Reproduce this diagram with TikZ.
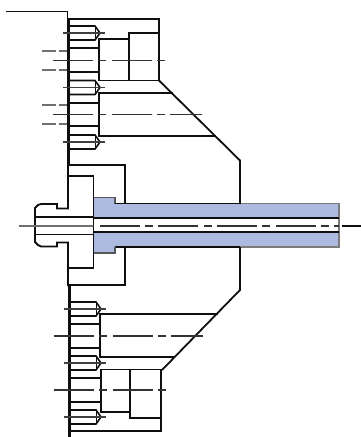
\documentclass[tikz,border=0pt]{standalone}
\definecolor{shaft}{RGB}{172,186,224}
\definecolor{ink}{RGB}{15,15,15}
\tikzset{
  outl/.style={draw=ink,line width=1.35pt,line join=miter},
  heavy/.style={draw=ink,line width=2.7pt},
  thinl/.style={draw=ink,line width=1pt},
  axisl/.style={draw=ink!85,line width=0.85pt,dash pattern=on 30pt off 4pt on 6pt off 4pt},
  marks/.style={draw=ink!60,line width=2.1pt},
  screwhole/.pic={
    \draw[outl,line width=1.2pt] (0,-7)--(25,-7)--(30,0)--(25,7)--(0,7);
    \draw[thinl,line width=0.7pt] (25,-7)--(25,7);
    \draw[thinl,draw=ink!80,line width=0.9pt] (-7,0)--(35,0);
  }
}
\begin{document}
\begin{tikzpicture}[x=0.75pt,y=-0.75pt,line cap=butt]
\useasboundingbox (0,0) rectangle (361,437);
% shaft
\fill[shaft] (94,197.5)--(115,197.5)--(115,203.5)--(339,203.5)--(339,247)--(115,247)--(115,253)--(94,253)--cycle;
\fill[white] (94,218)rectangle(339,232);
\draw[draw=ink!70,line width=0.9pt] (94,197.5)--(115,197.5)--(115,203.5);
\draw[outl] (115,203.5)--(240,203.5);
\draw[draw=ink!55,line width=0.9pt] (240,203.5)--(339,203.5)--(339,247)--(240,247);
\draw[outl] (115,247)--(240,247);
\draw[draw=ink!70,line width=0.9pt] (115,247)--(115,253)--(94,253);
\draw[thinl] (94,218)--(339,218) (94,232)--(339,232);
% plate
\draw[outl] (6,11.5)--(67.5,11.5)--(67.5,20);
\draw[heavy] (68.5,19)--(68.5,165);
\draw[heavy] (69.5,286)--(69.5,437);
% upper flange and bolt
\draw[outl] (68,165)--(125,165)--(125,204);
\draw[outl] (68,165)--(68,208.5)--(57,208.5)--(57,204)--(41,204)--(38,205)--(35,208)--(35,242)--(38,245)--(41,246.5)--(57,246.5)--(57,242.5)--(68,242.5)--(68,286);
\draw[outl] (68,176)--(93.5,176)--(93.5,268)--(68,268);
\draw[outl] (125,247)--(125,285)--(68,285);
\draw[thinl] (35,217)--(93.5,217) (35,234.5)--(93.5,234.5);
% upper housing
\draw[outl] (68,19)--(159,19)--(159,80.5)--(99,80.5)--(99,39)--(129,39) (129,80.5)--(129,33)--(159,33);
\draw[outl] (69,48)--(99,48) (69,72)--(99,72);
\draw[outl] (159,80.5)--(240,160.5)--(240,204);
\draw[outl] (173,93)--(99,93)--(99,136)--(216,136);
\draw[outl] (69,103)--(99,103) (69,126)--(99,126);
% lower housing
\draw[outl] (240,247)--(240,290)--(162,370);
\draw[outl] (218,314)--(100,314)--(100,357)--(175,357);
\draw[outl] (70,324)--(100,324) (70,348)--(100,348);
\draw[outl] (70,431)--(161,431)--(161,369.5)--(101,369.5)--(101,412)--(130,412) (130,369.5)--(130,418)--(161,418);
\draw[outl] (70,378)--(101,378) (70,402)--(101,402);
% screws
\foreach \yy/\xx in {33/70,87.5/70,142/70,309/71,363/71,417/71}
  \pic[x=0.75pt,y=-0.75pt] at (\xx,\yy) {screwhole};
% left marks
\foreach \yy in {51,70,105,124}
  \draw[marks] (42,\yy)--(56,\yy) (59,\yy)--(67,\yy);
% axes
\draw[axisl] (53,60.5)--(168,60.5);
\draw[axisl] (53,114.5)--(202,114.5);
\draw[axisl] (54,336)--(203,336);
\draw[axisl] (54,390)--(169,390);
\draw[axisl,draw=ink!60,dash pattern=] (19,226)--(93,226);
\draw[axisl,dash phase=-5pt] (93,226)--(339,226);
\draw[thinl] (342,226)--(361,226);
\end{tikzpicture}
\end{document}
